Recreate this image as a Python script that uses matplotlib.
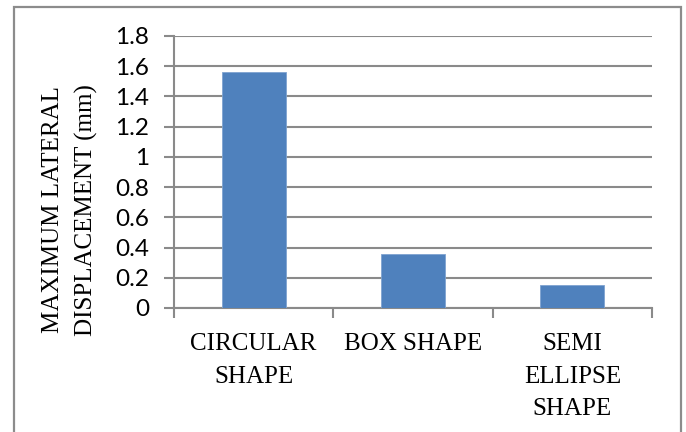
import matplotlib
matplotlib.use("Agg")
import matplotlib.pyplot as plt
from matplotlib.patches import Rectangle

categories = ["CIRCULAR\nSHAPE", "BOX SHAPE", "SEMI\nELLIPSE\nSHAPE"]
values = [1.56, 0.36, 0.15]
yticks = [0, 0.2, 0.4, 0.6, 0.8, 1, 1.2, 1.4, 1.6, 1.8]
ytick_labels = ["0", "0.2", "0.4", "0.6", "0.8", "1", "1.2", "1.4", "1.6", "1.8"]
ylabel = "MAXIMUM LATERAL\nDISPLACEMENT (mm)"

W, H = 686, 432
fig = plt.figure(figsize=(W / 100, H / 100), dpi=100)
fig.patch.set_facecolor("white")

# outer chart border
fig.add_artist(Rectangle((13.5 / W, -0.05), (681 - 13.5) / W, 1.05 - 6.7 / H,
                         transform=fig.transFigure, fill=False,
                         edgecolor="#8c8c8c", linewidth=1.6))

left, right, top, bottom = 174, 652, 36, 308
ax = fig.add_axes([left / W, 1 - bottom / H, (right - left) / W, (bottom - top) / H])

x = list(range(len(categories)))
ax.bar(x, values, width=0.4, color="#4F81BD", edgecolor="#7fa3d0", linewidth=0.6, zorder=3)

ax.set_xlim(-0.5, 2.5)
ax.set_ylim(0, 1.8)
ax.set_yticks(yticks)
ax.set_yticklabels(ytick_labels, fontfamily="Lato", fontsize=17.5, color="black")
ax.yaxis.grid(True, color="#8a8a8a", linewidth=1.5, zorder=0)
ax.set_axisbelow(True)

ax.set_xticks(x)
ax.set_xticklabels(categories, fontfamily="Liberation Serif", fontsize=18,
                   linespacing=1.62, color="black")
ax.tick_params(axis="x", which="major", length=0, pad=18)
ax.set_xticks([-0.5, 0.5, 1.5, 2.5], minor=True)
ax.tick_params(axis="x", which="minor", length=7, width=1.5, color="#8a8a8a")
ax.tick_params(axis="y", length=7, width=1.5, color="#8a8a8a", pad=11)

for s in ["top", "right"]:
    ax.spines[s].set_visible(False)
for s in ["left", "bottom"]:
    ax.spines[s].set_color("#8a8a8a")
    ax.spines[s].set_linewidth(1.5)

fig.text(70 / W, 1 - 210 / H, ylabel, rotation=90, ha="center", va="center",
         multialignment="center", fontfamily="Liberation Serif", fontsize=18,
         linespacing=1.6, color="black")

fig.savefig("out.png", dpi=100, facecolor="white")
